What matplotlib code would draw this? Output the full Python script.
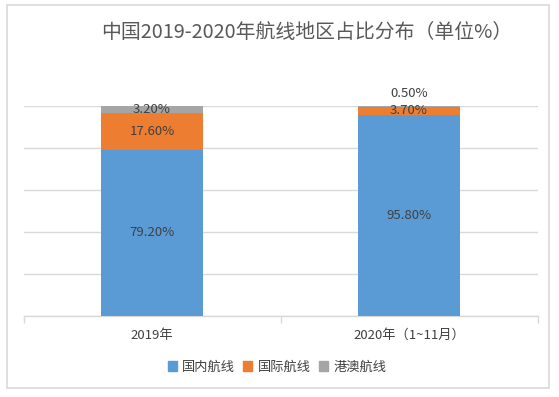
import matplotlib.pyplot as plt
import matplotlib.patches as mpatches
import numpy as np

plt.rcParams['font.family'] = ['Noto Sans CJK SC', 'DejaVu Sans']

# data
years = ["2019年", "2020年（1~11月）"]
series_names = ["国内航线", "国际航线", "港澳航线"]
domestic = [79.2, 95.8]
international = [17.6, 3.7]
hk_macao = [3.2, 0.5]
colors = ["#5B9BD5", "#ED7D31", "#A5A5A5"]

text_color = "#404040"
grid_color = "#D9D9D9"

fig = plt.figure(figsize=(5.59, 3.97), dpi=100)

# outer border of the chart area
fig.patches.append(mpatches.Rectangle((7 / 559, 1 - 388 / 397), 542 / 559, 383 / 397,
                                      transform=fig.transFigure, fill=False,
                                      edgecolor=grid_color, linewidth=1.2))

ax = fig.add_axes([23.5 / 559, 1 - 316 / 397, 514 / 559, 210 / 397])

x = np.arange(len(years))
width = 0.4
bottom = np.zeros(len(years))
for vals, name, c in zip([domestic, international, hk_macao], series_names, colors):
    ax.bar(x, vals, width, bottom=bottom, color=c, label=name, zorder=3)
    for xi, v, b0 in zip(x, vals, bottom):
        if v < 1:
            # too thin, put label above the bar
            ax.annotate(f"{v:.2f}%", (xi, b0 + v), xytext=(0, 9), textcoords="offset points",
                        ha="center", va="center", fontsize=9.5, color=text_color, zorder=4)
        else:
            ax.text(xi, b0 + v / 2, f"{v:.2f}%", ha="center", va="center",
                    fontsize=9.5, color=text_color, zorder=4)
    bottom = bottom + np.array(vals)

ax.set_xlim(-0.5, 1.5)
ax.set_ylim(0, 100)
ax.set_yticks(np.arange(0, 101, 20))
ax.yaxis.grid(True, color=grid_color, linewidth=1, zorder=0)
ax.tick_params(axis="y", left=False, labelleft=False)

ax.set_xticks(x)
ax.set_xticklabels(years, fontsize=9.5, color=text_color)
ax.set_xticks([-0.5, 0.5, 1.5], minor=True)
ax.tick_params(axis="x", which="major", length=0, pad=9)
ax.tick_params(axis="x", which="minor", length=5, color=grid_color, width=1)

for s in ["top", "right", "left"]:
    ax.spines[s].set_visible(False)
ax.spines["bottom"].set_color(grid_color)
ax.spines["bottom"].set_linewidth(1)

fig.text(307 / 559, 1 - 32 / 397, "中国2019-2020年航线地区占比分布（单位%）",
         ha="center", va="center", fontsize=14.3, color="#595959")

handles = [mpatches.Patch(color=c) for c in colors]
fig.legend(handles, series_names, loc="center", bbox_to_anchor=(277 / 559, 1 - 367 / 397),
           ncol=3, frameon=False, fontsize=9.5, handlelength=0.7, handleheight=0.7,
           handletextpad=0.4, columnspacing=0.6, labelcolor=text_color)

fig.savefig("out.png", dpi=100)
